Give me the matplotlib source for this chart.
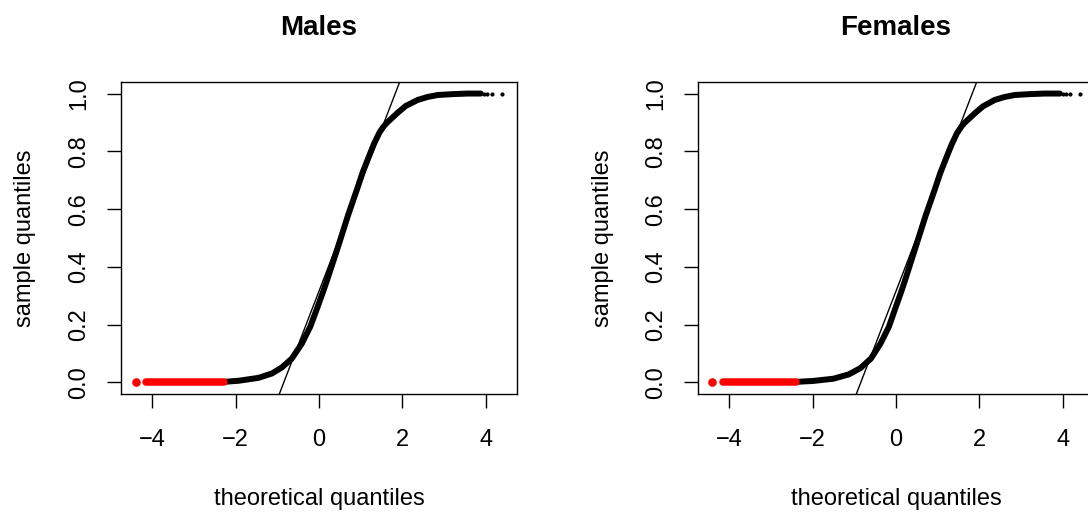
import matplotlib
matplotlib.use("Agg")
import matplotlib.pyplot as plt
import numpy as np

plt.rcParams["font.family"] = ["Liberation Sans", "DejaVu Sans"]

# values
males_x = [-2.28, -1.92, -1.45, -1.13, -0.89, -0.65, -0.41, -0.21, -0.05, 0.10,
           0.20, 0.46, 0.70, 0.92, 1.05, 1.20, 1.32, 1.45, 1.55, 1.63,
           1.89, 2.08, 2.37, 2.60, 2.85, 3.20, 3.56, 3.88]
males_y = [0.002, 0.006, 0.016, 0.031, 0.052, 0.083, 0.135, 0.193, 0.255, 0.315,
           0.357, 0.471, 0.580, 0.672, 0.728, 0.783, 0.826, 0.865, 0.886, 0.899,
           0.934, 0.957, 0.978, 0.988, 0.995, 0.998, 1.0, 1.0]
males_tail = [3.96, 4.04, 4.16, 4.40]
males_red = [-4.40, -4.14, -2.28]

females_x = [-2.41, -2.00, -1.50, -1.13, -0.85, -0.60, -0.37, -0.17, -0.02, 0.12,
             0.22, 0.47, 0.71, 0.93, 1.06, 1.21, 1.33, 1.46, 1.56, 1.64,
             1.90, 2.09, 2.37, 2.60, 2.85, 3.20, 3.56, 3.93]
females_y = [0.002, 0.005, 0.013, 0.028, 0.050, 0.083, 0.135, 0.193, 0.255, 0.312,
             0.355, 0.468, 0.577, 0.668, 0.724, 0.779, 0.822, 0.862, 0.884, 0.898,
             0.933, 0.956, 0.978, 0.988, 0.995, 0.998, 1.0, 1.0]
females_tail = [4.01, 4.09, 4.17, 4.41]
females_red = [-4.42, -4.16, -2.41]

# qqline: intercept, slope
males_line = (0.316, 0.374)
females_line = (0.316, 0.374)

panels = [("Males", males_x, males_y, males_tail, males_red, males_line),
          ("Females", females_x, females_y, females_tail, females_red, females_line)]

fig = plt.figure(figsize=(10.88, 5.13), dpi=100)
lefts = [121 / 1088, 698 / 1088]

for left, (title, x, y, tail, red, line) in zip(lefts, panels):
    ax = fig.add_axes([left, 1 - 394 / 513, 396 / 1088, 312 / 513])
    ax.plot(x, y, color="black", lw=4.3, solid_capstyle="round",
            solid_joinstyle="round")
    ax.plot(tail, [1.0] * len(tail), "o", color="black", ms=2.0)
    ax.plot(red[1:], [0.0, 0.0], color="red", lw=5.4, solid_capstyle="round")
    ax.plot(red[:1], [0.0], "o", color="red", ms=5.2)
    ax.axline((0, line[0]), slope=line[1], color="black", lw=1.0)

    ax.set_xlim(-4.75, 4.75)
    ax.set_ylim(-0.04, 1.04)
    ax.set_xticks([-4, -2, 0, 2, 4])
    ax.set_xticklabels(["\u22124", "\u22122", "0", "2", "4"])
    ax.set_yticks([0.0, 0.2, 0.4, 0.6, 0.8, 1.0])
    ax.set_yticklabels(["0.0", "0.2", "0.4", "0.6", "0.8", "1.0"],
                       rotation=90, va="center")
    ax.tick_params(axis="x", length=10, width=1.0, pad=15, labelsize=17)
    ax.tick_params(axis="y", length=10, width=1.0, pad=12, labelsize=17)
    for s in ax.spines.values():
        s.set_linewidth(1.0)
    ax.set_title(title, fontsize=20, fontweight="bold", pad=34)
    ax.set_xlabel("theoretical quantiles", fontsize=17, labelpad=27)
    ax.set_ylabel("sample quantiles", fontsize=17, labelpad=23)

fig.savefig("out.png", dpi=100)
